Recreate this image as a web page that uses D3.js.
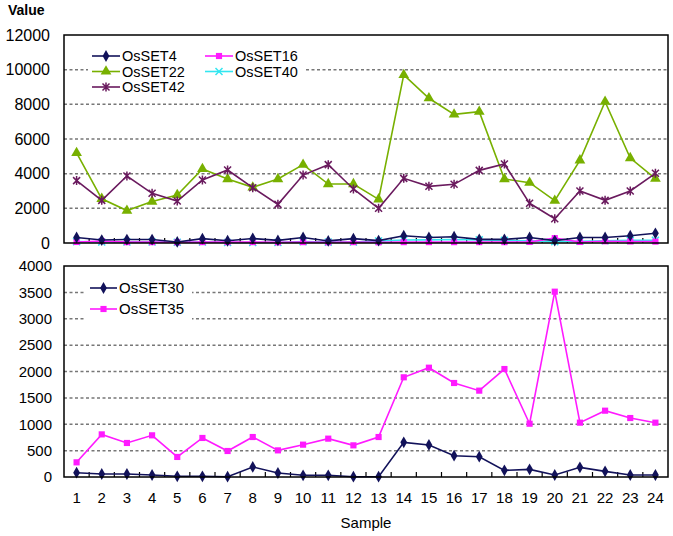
<!DOCTYPE html>
<html><head><meta charset="utf-8">
<script src="https://cdn.jsdelivr.net/npm/d3@7"></script>
<style>body{margin:0;background:#fff;} text{font-family:Arial,"Liberation Sans",sans-serif;}</style>
</head><body>
<svg id="c" width="673" height="536"></svg>
<script>
const samples = d3.range(1, 25);
const topTicks = [0, 2000, 4000, 6000, 8000, 10000, 12000];
const bottomTicks = [0, 500, 1000, 1500, 2000, 2500, 3000, 3500, 4000];

const OsSET4  = [320, 170, 200, 200, 60, 250, 130, 260, 150, 320, 120, 250, 140, 420, 320, 360, 210, 210, 320, 140, 320, 320, 420, 560];
const OsSET16 = [60, 110, 50, 50, 40, 50, 50, 50, 40, 50, 40, 50, 40, 50, 50, 50, 50, 50, 60, 280, 60, 100, 90, 80];
const OsSET22 = [5200, 2550, 1870, 2390, 2770, 4270, 3690, 3210, 3690, 4520, 3400, 3400, 2520, 9700, 8350, 7420, 7580, 3690, 3480, 2440, 4770, 8150, 4900, 3710];
const OsSET40 = [80, 60, 60, 60, 40, 60, 30, 30, 30, 80, 50, 60, 110, 170, 180, 200, 180, 150, 120, 80, 100, 130, 150, 160];
const OsSET42 = [3600, 2460, 3865, 2865, 2420, 3635, 4210, 3190, 2230, 3920, 4520, 3115, 2000, 3730, 3270, 3385, 4190, 4560, 2290, 1400, 3000, 2460, 3000, 4020];
const OsSET30 = [82, 57, 57, 38, 13, 13, 6, 190, 76, 32, 32, 6, 6, 657, 607, 404, 385, 126, 145, 38, 183, 107, 38, 38];
const OsSET35 = [278, 808, 645, 790, 380, 740, 493, 758, 505, 613, 727, 600, 758, 1890, 2072, 1782, 1637, 2047, 1010, 3513, 1030, 1257, 1118, 1030];

const svg = d3.select("#c");
const L = 64, R = 668;
const x = d3.scalePoint().domain(samples).range([L, R]).padding(0.5);
const step = x.step();

const diamond = d3.symbol().type(d3.symbolDiamond).size(40);
const square = d3.symbol().type(d3.symbolSquare).size(38);
const triangle = d3.symbol().type(d3.symbolTriangle).size(50);
function xPath(s){ return `M${-s},${-s}L${s},${s}M${-s},${s}L${s},${-s}`; }
function starPath(s){ return `M${-s},${-s}L${s},${s}M${-s},${s}L${s},${-s}M0,${-s-1}L0,${s+1}`; }

function drawMarker(g, type, color){
  if (type === "diamond") g.append("path").attr("d", diamond()).attr("fill", color);
  else if (type === "square") g.append("path").attr("d", square()).attr("fill", color);
  else if (type === "triangle") g.append("path").attr("d", triangle()).attr("fill", color);
  else if (type === "x") g.append("path").attr("d", xPath(3.5)).attr("stroke", color).attr("stroke-width", 1.5).attr("fill", "none");
  else if (type === "star") g.append("path").attr("d", starPath(3.5)).attr("stroke", color).attr("stroke-width", 1.5).attr("fill", "none");
}

function panel(cfg){
  const y = d3.scaleLinear().domain([0, cfg.max]).range([cfg.bottom, cfg.top]);
  const g = svg.append("g");
  g.selectAll(".grid").data(cfg.ticks.filter(t => t > 0 && t < cfg.max)).join("line")
    .attr("x1", L).attr("x2", R).attr("y1", d => y(d)).attr("y2", d => y(d))
    .attr("stroke", "#777").attr("stroke-width", 1.5).attr("stroke-dasharray", "3,2.5");
  g.append("rect").attr("x", cfg.legBox[0]).attr("y", cfg.legBox[1]).attr("width", cfg.legBox[2]).attr("height", cfg.legBox[3]).attr("fill", "#fff");
  const ya = d3.axisLeft(y).tickValues(cfg.ticks).tickFormat(d3.format("d")).tickSize(0).tickPadding(0);
  const yg = g.append("g").attr("transform", `translate(${cfg.labelRight},0)`).call(ya);
  yg.select(".domain").remove();
  yg.selectAll("text").attr("font-size", cfg.tickFont).attr("fill", "#000").attr("font-family", "Arial, 'Liberation Sans', sans-serif");
  const bounds = d3.range(1, 24).map(i => L + i * step);
  g.selectAll(".xt").data(bounds).join("line")
    .attr("x1", d => d).attr("x2", d => d).attr("y1", cfg.bottom).attr("y2", cfg.bottom - 5)
    .attr("stroke", "#000").attr("stroke-width", 1.2);
  const line = d3.line().x((d, i) => x(samples[i])).y(d => y(d));
  cfg.series.forEach(s => {
    g.append("path").datum(s.values).attr("d", line).attr("fill", "none")
      .attr("stroke", s.color).attr("stroke-width", 1.6);
    s.values.forEach((v, i) => {
      const m = g.append("g").attr("transform", `translate(${x(samples[i])},${y(v)})`);
      drawMarker(m, s.marker, s.color);
    });
  });
  g.append("rect").attr("x", L).attr("y", cfg.top).attr("width", R - L).attr("height", cfg.bottom - cfg.top)
    .attr("fill", "none").attr("stroke", "#000").attr("stroke-width", 1.5);
  cfg.legend.forEach(e => {
    const s = cfg.series.find(q => q.name === e.name);
    g.append("line").attr("x1", e.x).attr("x2", e.x + e.w).attr("y1", e.y).attr("y2", e.y)
      .attr("stroke", s.color).attr("stroke-width", 1.6);
    const m = g.append("g").attr("transform", `translate(${e.x + e.w / 2},${e.y})`);
    drawMarker(m, s.marker, s.color);
    g.append("text").attr("x", e.x + e.w + 2).attr("y", e.y).attr("dy", "0.35em")
      .attr("font-size", cfg.legFont).attr("fill", "#000").text(s.name);
  });
}

panel({
  top: 35, bottom: 243, max: 12000, ticks: topTicks, labelRight: 50, tickFont: 16, legFont: 14.5,
  legBox: [88, 46, 218, 50],
  series: [
    {name: "OsSET22", values: OsSET22, color: "#78b000", marker: "triangle"},
    {name: "OsSET42", values: OsSET42, color: "#6a1a5e", marker: "star"},
    {name: "OsSET40", values: OsSET40, color: "#33e6f0", marker: "x"},
    {name: "OsSET16", values: OsSET16, color: "#ff1aff", marker: "square"},
    {name: "OsSET4",  values: OsSET4,  color: "#12125a", marker: "diamond"}
  ],
  legend: [
    {name: "OsSET4", x: 92, w: 28, y: 56},
    {name: "OsSET22", x: 92, w: 28, y: 71.5},
    {name: "OsSET42", x: 92, w: 28, y: 87},
    {name: "OsSET16", x: 205, w: 28, y: 56},
    {name: "OsSET40", x: 205, w: 28, y: 71.5}
  ]
});

panel({
  top: 266, bottom: 477, max: 4000, ticks: bottomTicks, labelRight: 52, tickFont: 15, legFont: 15,
  legBox: [84, 278, 108, 42],
  series: [
    {name: "OsSET35", values: OsSET35, color: "#ff1aff", marker: "square"},
    {name: "OsSET30", values: OsSET30, color: "#12125a", marker: "diamond"}
  ],
  legend: [
    {name: "OsSET30", x: 90, w: 27, y: 288},
    {name: "OsSET35", x: 90, w: 27, y: 309}
  ]
});

svg.append("g").selectAll("text").data(samples).join("text")
  .attr("x", d => x(d)).attr("y", 498).attr("dy", "0.35em").attr("text-anchor", "middle")
  .attr("font-size", 15).attr("fill", "#000").text(d => d);
svg.append("text").attr("x", 366).attr("y", 523).attr("dy", "0.35em").attr("text-anchor", "middle")
  .attr("font-size", 15).attr("fill", "#000").text("Sample");
svg.append("text").attr("x", 8).attr("y", 10).attr("dy", "0.35em")
  .attr("font-size", 14).attr("font-weight", "bold").attr("fill", "#000").text("Value");
</script>
</body></html>
